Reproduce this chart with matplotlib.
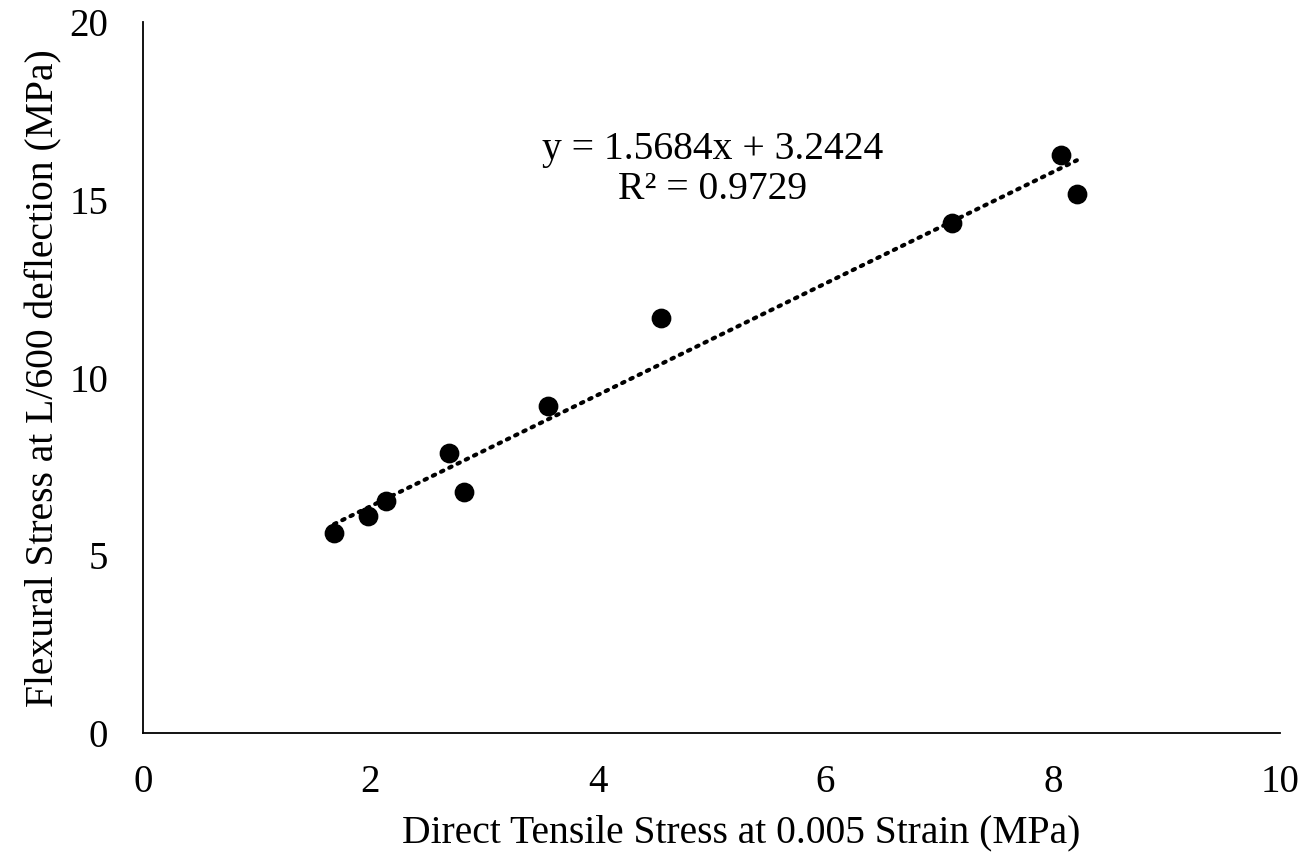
import matplotlib
matplotlib.use('Agg')
import matplotlib.pyplot as plt
import numpy as np

# tensile vs flexural stress, one point per specimen
tensile = [1.68, 1.98, 2.14, 2.69, 2.82, 3.56, 4.55, 7.11, 8.07, 8.21]
flexural = [5.62, 6.10, 6.52, 7.89, 6.77, 9.19, 11.69, 14.35, 16.26, 15.17]

# linear trendline
slope = 1.5684
intercept = 3.2424
r2 = 0.9729

plt.rcParams['font.family'] = ['Liberation Serif', 'DejaVu Serif']

fig = plt.figure(figsize=(13.09, 8.52), dpi=100)
ax = fig.add_axes([0.1092, 0.1397, 0.869, 0.834])

ax.scatter(tensile, flexural, s=175, color='black', zorder=3)

xfit = np.array([min(tensile), max(tensile)])
ax.plot(xfit, slope * xfit + intercept, color='black', linestyle=(0, (0.6, 1.6)),
        linewidth=3, dash_capstyle='round', zorder=2)

ax.text(5.01, 15.85, 'y = %.4fx + %.4f\nR² = %.4f' % (slope, intercept, r2),
        ha='center', va='center', fontsize=28.5, linespacing=1.1)

ax.set_xlim(0, 10)
ax.set_ylim(0, 20)
ax.set_xticks([0, 2, 4, 6, 8, 10])
ax.set_yticks([0, 5, 10, 15, 20])
ax.tick_params(length=0, labelsize=28, pad=22)
ax.tick_params(axis='y', pad=25)
ax.spines['top'].set_visible(False)
ax.spines['right'].set_visible(False)
ax.spines['left'].set_linewidth(1.3)
ax.spines['bottom'].set_linewidth(1.3)

ax.set_xlabel('Direct Tensile Stress at 0.005 Strain (MPa)', fontsize=28.5, labelpad=10,
              x=0.526, ha='center')
ax.set_ylabel('Flexural Stress at L/600 deflection (MPa)', fontsize=28.5, labelpad=5)

plt.savefig('out.png', dpi=100)
